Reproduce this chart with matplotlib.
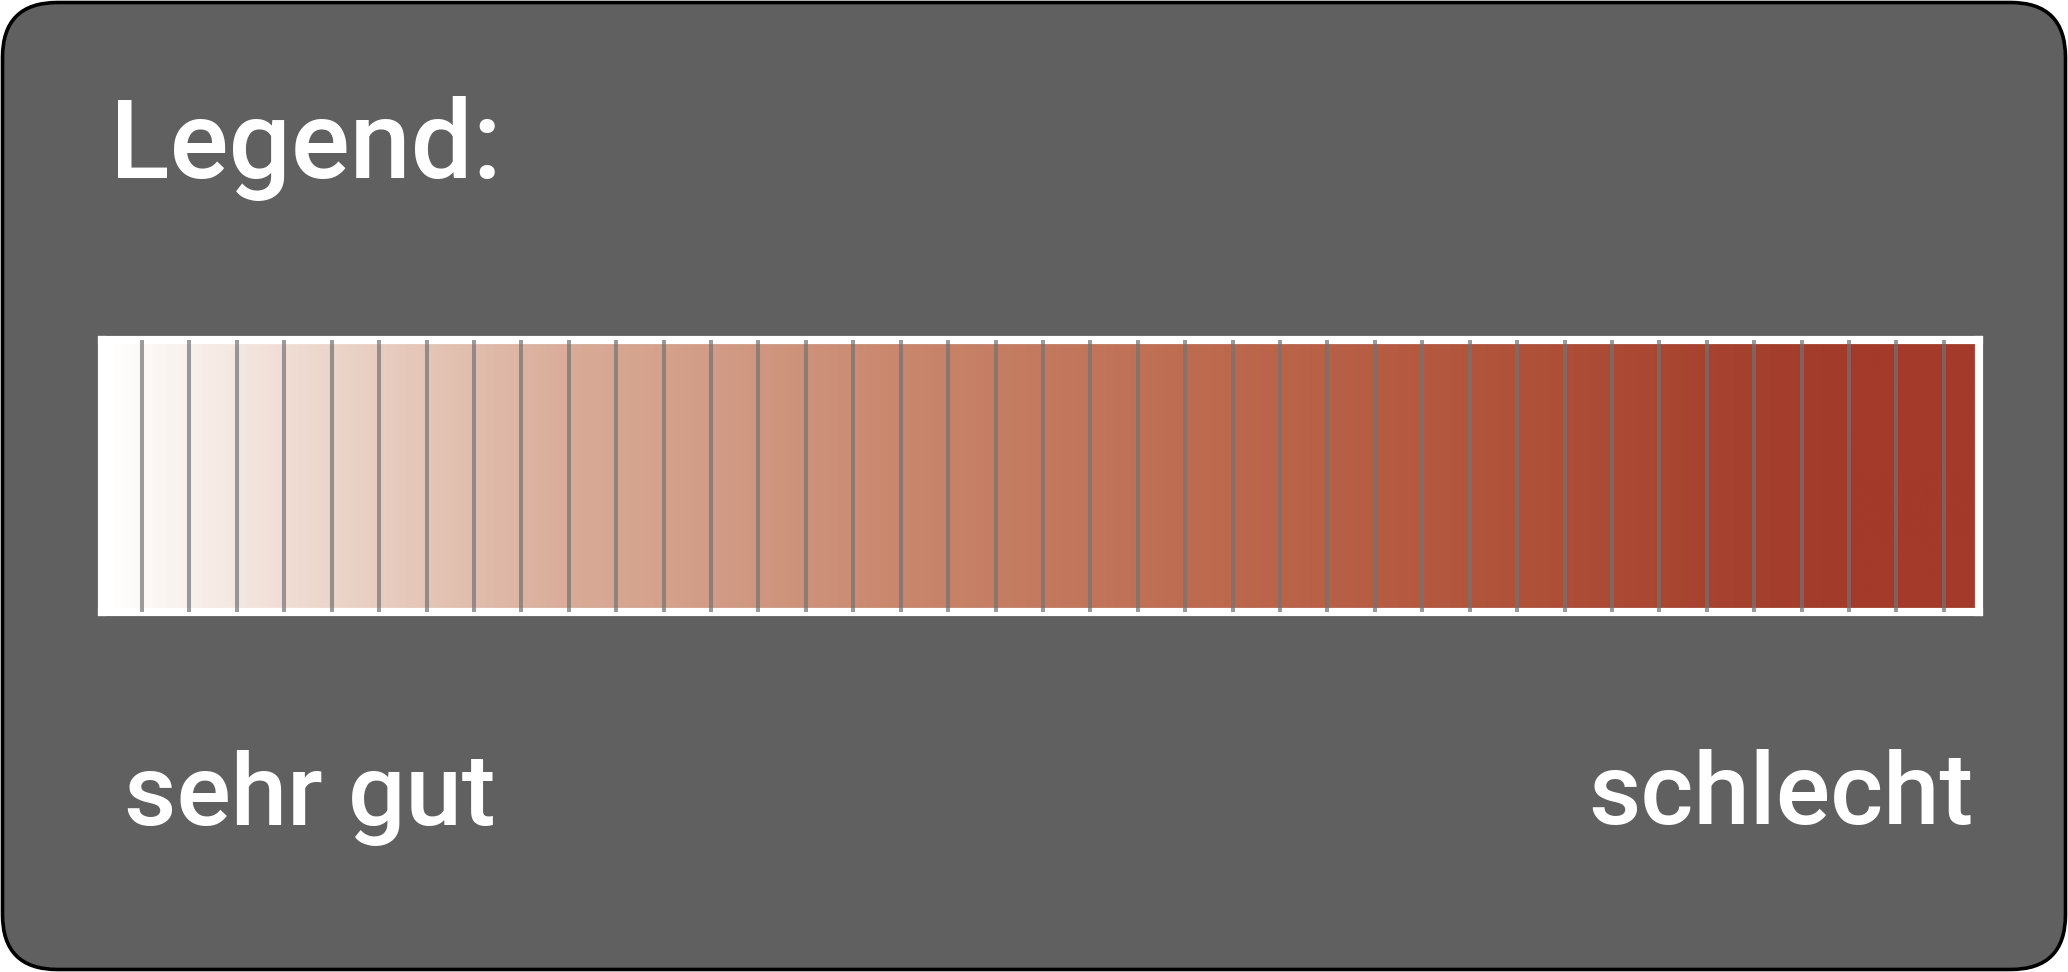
import matplotlib
matplotlib.use("Agg")
import matplotlib.pyplot as plt
import numpy as np
from matplotlib.colors import LinearSegmentedColormap
from matplotlib.patches import FancyBboxPatch

# ---- data ----
title_text = "Legend:"
label_left = "sehr gut"
label_right = "schlecht"
n_cells = 40  # number of cells separated by divider lines
gradient_positions = [0.0, 0.104, 0.254, 0.436, 0.591, 0.746, 0.864, 0.93, 1.0]
gradient_colors = ["#ffffff", "#eedad0", "#d8aa96", "#c8856b", "#bd6a4f",
                   "#b1533b", "#a6422f", "#a33b2a", "#a33a2a"]

W, H = 2068, 972
DPI = 100
fig = plt.figure(figsize=(W / DPI, H / DPI), dpi=DPI, facecolor="white")


def fx(px):
    return px / W


def fy(py):
    return 1 - py / H


# background rounded panel
bg_ax = fig.add_axes([0, 0, 1, 1])
bg_ax.set_xlim(0, W)
bg_ax.set_ylim(H, 0)
bg_ax.axis("off")
r = 55
panel = FancyBboxPatch((2.5 + r, 2.5 + r), W - 5 - 2 * r, H - 5 - 2 * r,
                       boxstyle=f"round,pad={r}", facecolor="#606060",
                       edgecolor="black", linewidth=2.6)
bg_ax.add_patch(panel)

# colour bar axes (positioned on the centreline of the white border)
left, right = 102, 1979
top, bottom = 340, 611.5
bar_ax = fig.add_axes([fx(left), fy(bottom), fx(right) - fx(left), (bottom - top) / H])
x0 = 0.156
x1 = 39.74
cmap = LinearSegmentedColormap.from_list("grad", list(zip(gradient_positions, gradient_colors)))
grad = np.linspace(0, 1, 1000).reshape(1, -1)
bar_ax.imshow(grad, cmap=cmap, aspect="auto", extent=(x0 + 0.1, x1 - 0.1, 0, 1),
              interpolation="bilinear")
bar_ax.set_xlim(x0, x1)
bar_ax.set_ylim(0, 1)
bar_ax.set_xticks([])
bar_ax.set_yticks([])
for s in bar_ax.spines.values():
    s.set_color("white")
    s.set_linewidth(5.9)
    s.set_zorder(3)
dividers = np.arange(1, n_cells)
bar_ax.vlines(dividers, 0, 1, colors=(0.45, 0.45, 0.45), alpha=0.7,
              linewidth=2.9, zorder=4, clip_on=False)

# texts
font = "Roboto"
fig.text(fx(110), fy(178), title_text, color="white", fontsize=79,
         family=font, weight="medium", va="baseline", ha="left")
fig.text(fx(124), fy(825), label_left, color="white", fontsize=73,
         family=font, weight="medium", va="baseline", ha="left")
fig.text(fx(1974), fy(824), label_right, color="white", fontsize=73,
         family=font, weight="medium", va="baseline", ha="right")

fig.savefig("out.png", dpi=DPI, facecolor="white")
